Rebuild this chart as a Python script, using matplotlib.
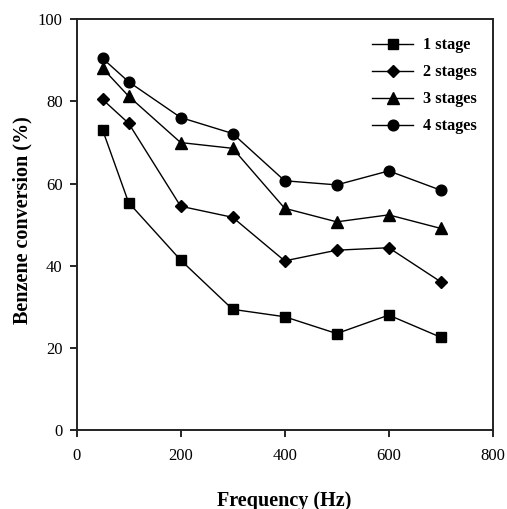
import matplotlib
matplotlib.use('Agg')
import matplotlib.pyplot as plt

plt.rcParams['font.family'] = ['Liberation Serif', 'DejaVu Serif']

freq = [50, 100, 200, 300, 400, 500, 600, 700]
stage1 = [73.1, 55.4, 41.4, 29.4, 27.6, 23.5, 28.0, 22.6]
stage2 = [80.5, 74.7, 54.5, 51.8, 41.2, 43.8, 44.4, 36.1]
stage3 = [88.1, 81.3, 70.0, 68.6, 54.0, 50.7, 52.4, 49.1]
stage4 = [90.5, 84.8, 76.1, 72.2, 60.7, 59.7, 63.1, 58.4]
labels = ['1 stage', '2 stages', '3 stages', '4 stages']
markers = ['s', 'D', '^', 'o']
msizes = [7, 6, 8, 7.7]

fig = plt.figure(figsize=(5.07, 5.09), dpi=100)
ax = fig.add_axes([0.151, 0.155, 0.821, 0.807])

for ys, lab, m, ms in zip([stage1, stage2, stage3, stage4], labels, markers, msizes):
    ax.plot(freq, ys, color='black', marker=m, markersize=ms, linewidth=1.0, label=lab)

ax.set_xlim(0, 800)
ax.set_ylim(0, 100)
ax.set_xticks([0, 200, 400, 600, 800])
ax.set_yticks([0, 20, 40, 60, 80, 100])
ax.tick_params(direction='out', length=5, width=1.2, labelsize=12, colors='black')
ax.tick_params(axis='x', pad=8)
ax.tick_params(axis='y', pad=5)
for s in ax.spines.values():
    s.set_linewidth(1.4)
    s.set_color('#222222')

ax.set_xlabel('Frequency (Hz)', fontsize=14.5, fontweight='bold', labelpad=19)
ax.set_ylabel('Benzene conversion (%)', fontsize=14.5, fontweight='bold')
ax.yaxis.set_label_coords(-0.105, 0.512)

leg = ax.legend(loc='upper right', frameon=False, prop={'weight': 'bold', 'size': 11.7},
                handlelength=2.5, handletextpad=0.6, labelspacing=0.68,
                bbox_to_anchor=(0.996, 0.992))

fig.savefig('out.png', dpi=100)
